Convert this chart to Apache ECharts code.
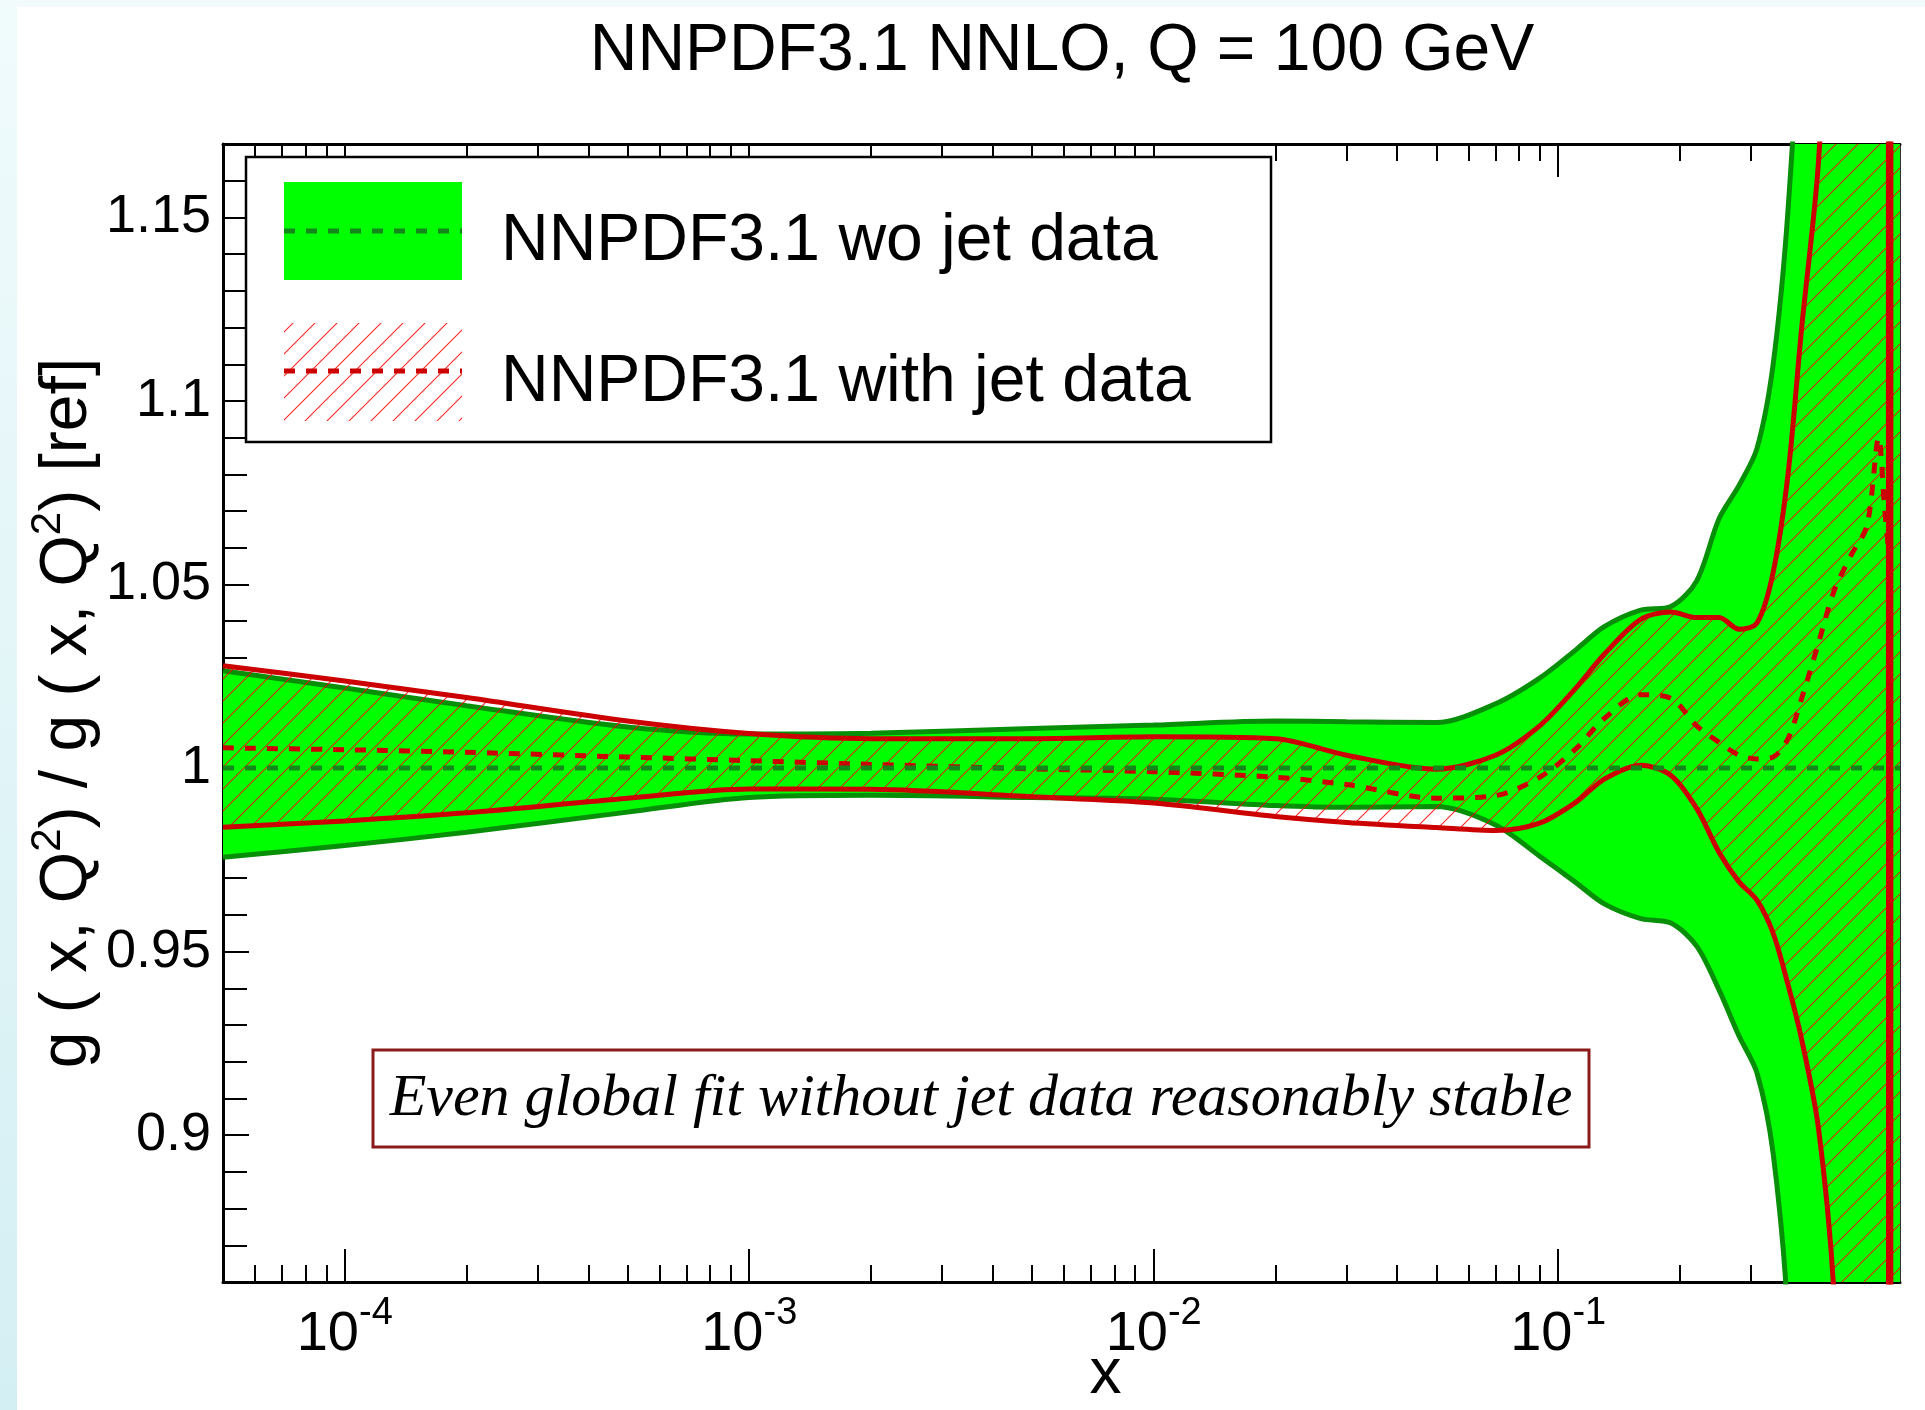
<!DOCTYPE html>
<html>
<head>
<meta charset="utf-8">
<title>NNPDF3.1 NNLO, Q = 100 GeV</title>
<script src="https://cdn.jsdelivr.net/npm/echarts@6/dist/echarts.min.js"></script>
<style>
  html, body { margin: 0; padding: 0; background: #fff; }
  #chart { width: 1925px; height: 1410px; }
</style>
</head>
<body>
<div id="chart"></div>
<script>
// x grid shared by both bands
var xs = [5e-5, 1e-4, 2e-4, 5e-4, 1e-3, 2e-3, 5e-3, 1e-2, 2e-2, 3e-2, 5e-2, 7e-2,
          0.09, 0.11, 0.13, 0.16, 0.19, 0.22, 0.25, 0.28, 0.31, 0.34, 0.37, 0.40,
          0.44, 0.48, 0.53, 0.58, 0.62, 0.64, 0.655, 0.656, 0.664, 0.665, 0.7];

// NNPDF3.1 wo jet data (green band)
var woJetUpper = [1.0265, 1.0218, 1.0170, 1.0112, 1.0093, 1.0095, 1.0108, 1.0117, 1.0128, 1.0126, 1.0124, 1.0175,
                  1.0245, 1.0320, 1.0385, 1.0430, 1.0440, 1.0510, 1.0680, 1.0770, 1.0870, 1.1100, 1.1520, 1.2200,
                  1.4, 1.4, 1.4, 1.4, 1.4, 1.4, 1.4, 1.4, 1.4, 1.4, 1.4];
var woJetLower = [0.9757, 0.9789, 0.9825, 0.9880, 0.9920, 0.9926, 0.9920, 0.9915, 0.9898, 0.9893, 0.9895, 0.9845,
                  0.9760, 0.9690, 0.9630, 0.9590, 0.9578, 0.9515, 0.9395, 0.9270, 0.9170, 0.8950, 0.8500, 0.7500,
                  0.6, 0.6, 0.6, 0.6, 0.6, 0.6, 0.6, 0.6, 0.6, 0.6, 0.6];
var refX = [5e-5, 0.7];
var refRatio = [1, 1];

// NNPDF3.1 with jet data (red hatched band)
var jetUpper = [1.0279, 1.0237, 1.0192, 1.0128, 1.0094, 1.0080, 1.0080, 1.0085, 1.0080, 1.0035, 0.9997, 1.0035,
                1.0115, 1.0215, 1.0310, 1.0405, 1.0425, 1.0410, 1.0410, 1.0378, 1.0395, 1.0533, 1.0800, 1.1200,
                1.1650, 1.2500, 1.4, 1.4, 1.4, 1.4, 1.4, 0.6, 0.6, 0.6, 0.6];
var jetLower = [0.9839, 0.9856, 0.9878, 0.9918, 0.9943, 0.9942, 0.9922, 0.9905, 0.9868, 0.9852, 0.9838, 0.9830,
                0.9850, 0.9905, 0.9970, 1.0008, 0.9980, 0.9890, 0.9770, 0.9690, 0.9640, 0.9550, 0.9410, 0.9260,
                0.9020, 0.8580, 0.7500, 0.6, 0.6, 0.6, 0.6, 0.6, 0.6, 1.4, 1.4];
var jetCentral = [1.0055, 1.0050, 1.0043, 1.0030, 1.0020, 1.0010, 0.9998, 0.9990, 0.9975, 0.9955, 0.9918, 0.9925,
                  0.9975, 1.0050, 1.0135, 1.0200, 1.0190, 1.0115, 1.0070, 1.0035, 1.0025, 1.0030, 1.0080, 1.0190,
                  1.0340, 1.0480, 1.0580, 1.0660, 1.0900, 1.0720, 1.0600, '-', '-', '-', '-'];

// ticks
var xMajorTicks = [1e-4, 1e-3, 1e-2, 1e-1];
var xMinorTicks = [6e-5, 7e-5, 8e-5, 9e-5,
                   2e-4, 3e-4, 4e-4, 5e-4, 6e-4, 7e-4, 8e-4, 9e-4,
                   2e-3, 3e-3, 4e-3, 5e-3, 6e-3, 7e-3, 8e-3, 9e-3,
                   2e-2, 3e-2, 4e-2, 5e-2, 6e-2, 7e-2, 8e-2, 9e-2,
                   0.2, 0.3, 0.4, 0.5, 0.6];
var yMajorTicks = [0.9, 0.95, 1, 1.05, 1.1, 1.15];
var yMinorTicks = [0.87, 0.88, 0.89, 0.91, 0.92, 0.93, 0.94, 0.96, 0.97, 0.98, 0.99,
                   1.01, 1.02, 1.03, 1.04, 1.06, 1.07, 1.08, 1.09, 1.11, 1.12, 1.13, 1.14, 1.16];

var xMin = 5e-5, xMax = 0.7, yMin = 0.86, yMax = 1.17;

var SANS = '"Liberation Sans", Arial, Helvetica, sans-serif';
var GREEN = '#00ff00', GREEN_DARK = '#078f07', GREEN_DASH = '#12881a', RED = '#cc0000';

function pairs(xArr, yArr) {
    return xArr.map(function (x, i) { return [x, yArr[i]]; });
}

// red hatch pattern "/"
var hatch = document.createElement('canvas');
hatch.width = 22; hatch.height = 22;
(function () {
    var c = hatch.getContext('2d');
    c.strokeStyle = 'rgba(255,0,0,0.85)';
    c.lineWidth = 1.1;
    c.beginPath();
    c.moveTo(0, 22); c.lineTo(22, 0);
    c.moveTo(-11, 11); c.lineTo(11, -11);
    c.moveTo(11, 33); c.lineTo(33, 11);
    c.stroke();
})();
var hatchFill = { image: hatch, repeat: 'repeat' };

// filled band between lower and upper, one polygon per series
function band(name, xArr, lowArr, upArr, fill, z) {
    return {
        name: name, type: 'custom', coordinateSystem: 'cartesian2d', clip: true, z: z, silent: true,
        encode: { x: 0, y: [1, 2] },
        data: xArr.map(function (x, i) { return [x, lowArr[i], upArr[i]]; }),
        renderItem: function (params, api) {
            if (params.dataIndexInside !== 0) return;
            var n = params.dataInsideLength, up = [], low = [];
            for (var i = 0; i < n; i++) {
                up.push(api.coord([api.value(0, i), api.value(2, i)]));
                low.push(api.coord([api.value(0, i), api.value(1, i)]));
            }
            low.reverse();
            var pts = [up[0]].concat(up, [up[n - 1], low[0]], low, [low[n - 1]]);
            return { type: 'polygon', shape: { points: pts, smooth: 0.3 }, style: { fill: fill } };
        }
    };
}

function edge(name, yArr, color, z, dash) {
    return {
        name: name, type: 'line', data: pairs(xs, yArr), smooth: 0.3, symbol: 'none', z: z,
        lineStyle: { color: color, width: 5, type: dash || 'solid' }
    };
}

var lg = Math.log10;
function logAxis(pos, ticks, len, showLine, extra) {
    var ax = {
        type: 'value', position: pos, min: lg(xMin), max: lg(xMax),
        axisLine: { show: showLine, onZero: false, lineStyle: { color: '#000', width: 3 } },
        axisTick: { show: true, inside: true, length: len, customValues: ticks.map(lg), lineStyle: { color: '#000', width: 2 } },
        axisLabel: { show: false },
        splitLine: { show: false }
    };
    for (var k in extra) ax[k] = extra[k];
    return ax;
}

var myChart = echarts.init(document.getElementById('chart'));

var option = {
    animation: false,
    backgroundColor: '#fff',
    grid: { left: 223, right: 25, top: 144, bottom: 128, containLabel: false, outerBoundsMode: 'none' },
    xAxis: [
        { type: 'log', logBase: 10, min: xMin, max: xMax, show: false },
        logAxis('bottom', xMajorTicks, 33, true, {
            axisLabel: {
                show: true,
                customValues: xMajorTicks.map(lg),
                formatter: function (v) { return '10{s|' + Math.round(v) + '}'; },
                fontSize: 56, fontFamily: SANS, color: '#000', margin: 13, lineHeight: 80,
                rich: { s: { fontSize: 38, fontFamily: SANS, color: '#000', verticalAlign: 'top', lineHeight: 38 } }
            },
            name: 'x', nameLocation: 'middle', nameGap: 61, nameMoveOverlap: false,
            nameTextStyle: { fontSize: 64, fontFamily: SANS, color: '#000', padding: [0, 0, 0, 88] }
        }),
        logAxis('bottom', xMinorTicks, 17, false, {}),
        logAxis('top', xMajorTicks, 33, true, {}),
        logAxis('top', xMinorTicks, 17, false, {})
    ],
    yAxis: [
        {
            type: 'value', position: 'left', min: yMin, max: yMax,
            axisLine: { show: true, onZero: false, lineStyle: { color: '#000', width: 3 } },
            axisTick: { show: true, inside: true, length: 26, customValues: yMajorTicks, lineStyle: { color: '#000', width: 2 } },
            axisLabel: { show: true, customValues: yMajorTicks, fontSize: 54, fontFamily: SANS, color: '#000', margin: 12 },
            splitLine: { show: false },
            name: 'g ( x, Q{s|2}) / g ( x, Q{s|2}) [ref]',
            nameLocation: 'middle', nameGap: 114, nameRotate: 90, nameMoveOverlap: false,
            nameTextStyle: {
                fontSize: 66, fontFamily: SANS, color: '#000', lineHeight: 82,
                rich: { s: { fontSize: 42, fontFamily: SANS, color: '#000', verticalAlign: 'top', lineHeight: 42 } }
            }
        },
        {
            type: 'value', position: 'left', min: yMin, max: yMax,
            axisLine: { show: false },
            axisTick: { show: true, inside: true, length: 24, customValues: yMinorTicks, lineStyle: { color: '#000', width: 2 } },
            axisLabel: { show: false }, splitLine: { show: false }
        },
        {
            type: 'value', position: 'right', min: yMin, max: yMax,
            axisLine: { show: true, onZero: false, lineStyle: { color: '#333', width: 2 } },
            axisTick: { show: false }, axisLabel: { show: false }, splitLine: { show: false }
        }
    ],
    series: [
        band('NNPDF3.1 wo jet data', xs, woJetLower, woJetUpper, GREEN, 2),
        edge('wo jet upper', woJetUpper, GREEN_DARK, 3),
        edge('wo jet lower', woJetLower, GREEN_DARK, 3),
        band('NNPDF3.1 with jet data', xs, jetLower, jetUpper, hatchFill, 4),
        edge('jet upper', jetUpper, RED, 5),
        edge('jet lower', jetLower, RED, 5),
        edge('jet central', jetCentral, RED, 6, [11, 11]),
        {
            name: 'wo jet central', type: 'line', data: pairs(refX, refRatio),
            symbol: 'none', z: 7,
            lineStyle: { color: GREEN_DASH, width: 5, type: [11, 11] }
        }
    ],
    graphic: [
        // slide background strips
        { type: 'rect', z: 1, shape: { x: 0, y: 0, width: 17, height: 1410 },
          style: { fill: new echarts.graphic.LinearGradient(0, 0, 0, 1, [{ offset: 0, color: '#f0fbfc' }, { offset: 1, color: '#d4eff3' }]) } },
        { type: 'rect', z: 1, shape: { x: 0, y: 0, width: 1925, height: 7 }, style: { fill: '#f1fbfb' } },
        // title
        { type: 'text', z: 100, x: 1062, y: 52,
          style: { text: 'NNPDF3.1 NNLO, Q = 100 GeV', font: '66px ' + SANS, fill: '#000',
                   align: 'center', verticalAlign: 'middle', textAlign: 'center', textVerticalAlign: 'middle' } },
        // legend
        { type: 'rect', z: 100, shape: { x: 246, y: 157, width: 1025, height: 285 },
          style: { fill: '#fff', stroke: '#000', lineWidth: 2.5 } },
        { type: 'rect', z: 101, shape: { x: 284, y: 182, width: 178, height: 98 }, style: { fill: GREEN } },
        { type: 'line', z: 102, shape: { x1: 284, y1: 231, x2: 462, y2: 231 },
          style: { stroke: GREEN_DASH, lineWidth: 5, lineDash: [11, 11] } },
        { type: 'text', z: 101, x: 501, y: 242,
          style: { text: 'NNPDF3.1 wo jet data', font: '66px ' + SANS, fill: '#000',
                   align: 'left', verticalAlign: 'middle', textAlign: 'left', textVerticalAlign: 'middle' } },
        { type: 'rect', z: 101, shape: { x: 284, y: 323, width: 178, height: 98 }, style: { fill: hatchFill } },
        { type: 'line', z: 102, shape: { x1: 284, y1: 371, x2: 462, y2: 371 },
          style: { stroke: RED, lineWidth: 5, lineDash: [11, 11] } },
        { type: 'text', z: 101, x: 501, y: 383,
          style: { text: 'NNPDF3.1 with jet data', font: '66px ' + SANS, fill: '#000',
                   align: 'left', verticalAlign: 'middle', textAlign: 'left', textVerticalAlign: 'middle' } },
        // annotation
        { type: 'rect', z: 100, shape: { x: 373, y: 1050, width: 1216, height: 97 },
          style: { fill: '#fff', stroke: '#8b1a1a', lineWidth: 3 } },
        { type: 'text', z: 101, x: 981, y: 1099,
          style: { text: 'Even global fit without jet data reasonably stable',
                   font: 'italic 60px "Liberation Serif", "Times New Roman", serif', fill: '#000',
                   align: 'center', verticalAlign: 'middle', textAlign: 'center', textVerticalAlign: 'middle' } }
    ]
};

myChart.setOption(option);
</script>
</body>
</html>
